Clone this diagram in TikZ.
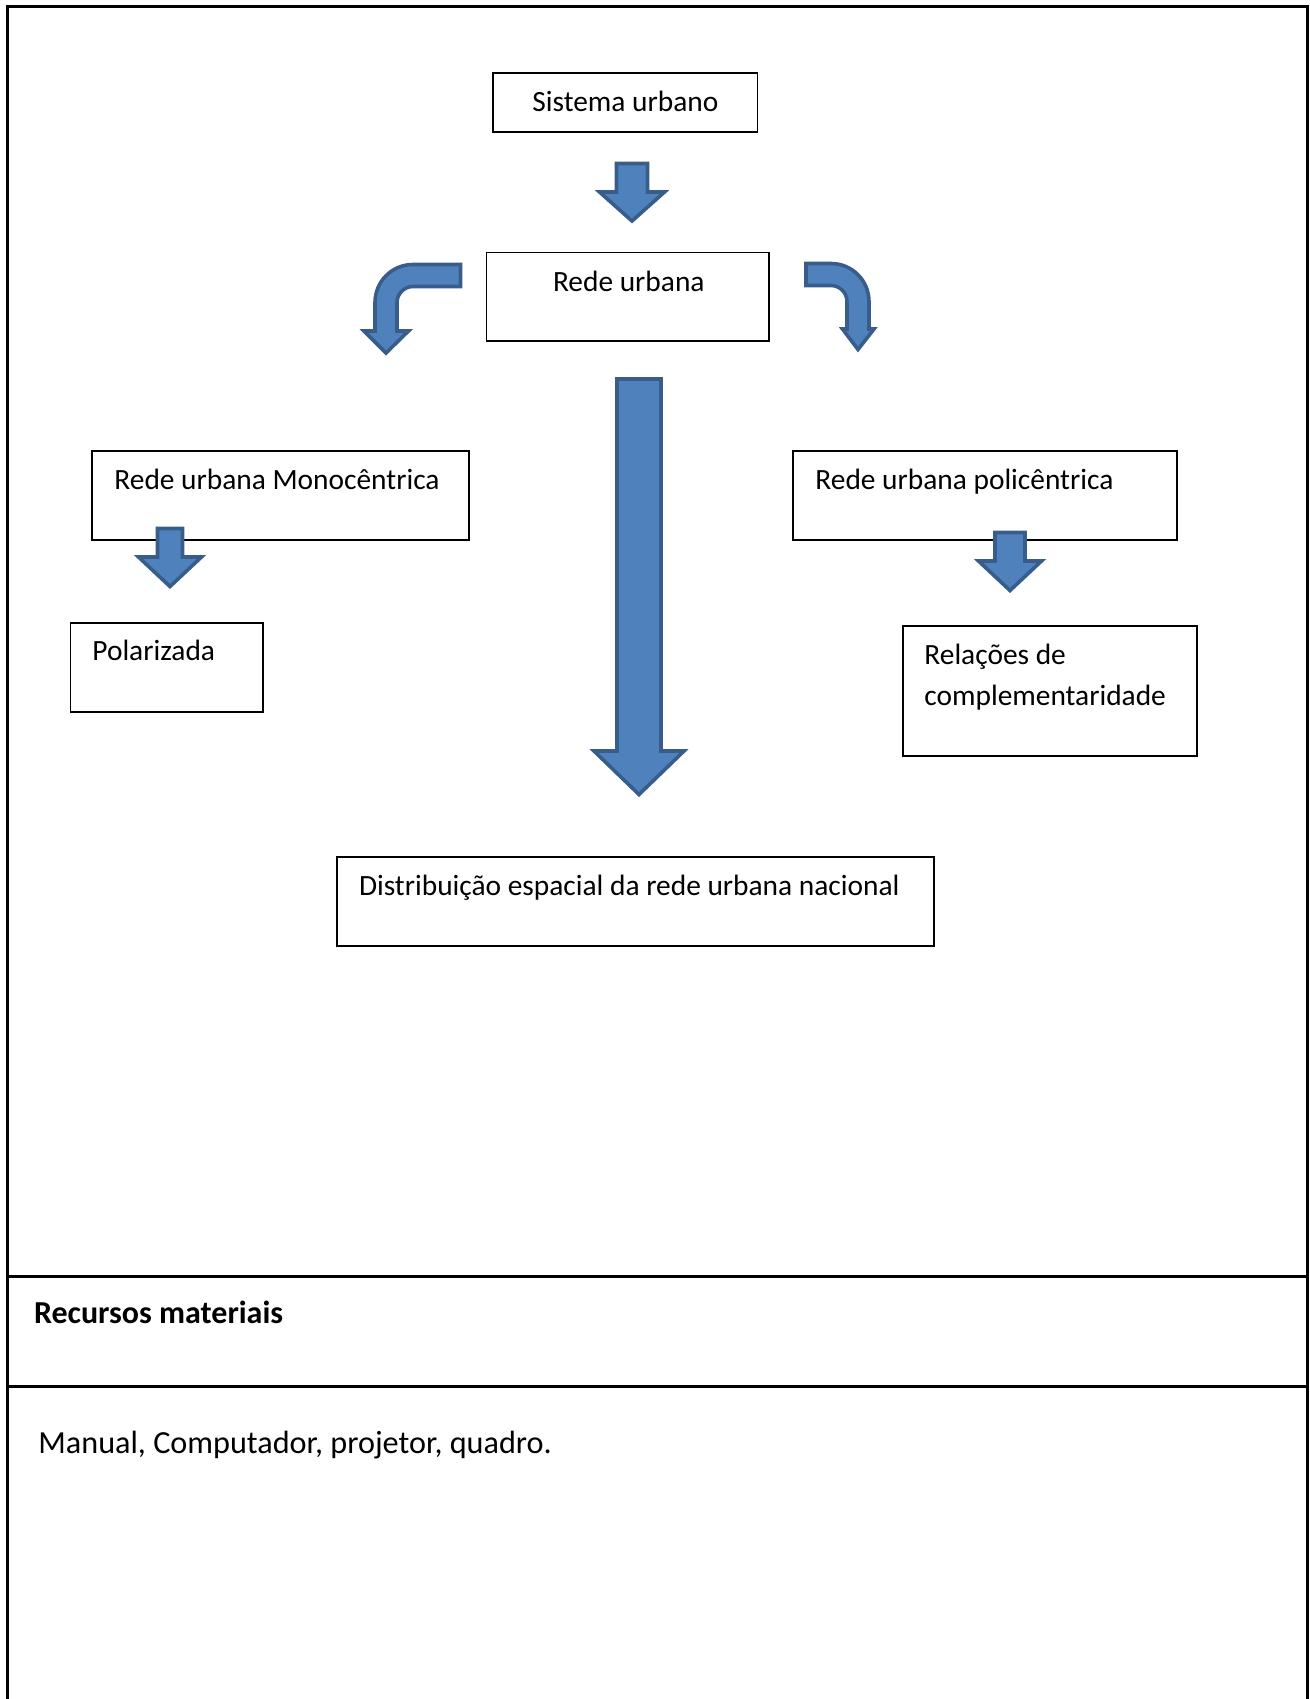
\documentclass[tikz,border=0pt]{standalone}
\usepackage{fontspec}
\setmainfont{Carlito}
\usetikzlibrary{fit}
\definecolor{arrowfill}{HTML}{4F81BD}
\definecolor{arrowline}{HTML}{385D8A}
\begin{document}
\begin{tikzpicture}[x=0.5pt,y=-0.5pt,
  frame/.style={line width=1.5pt},
  box/.style={draw, line width=0.9pt, inner sep=0pt},
  txt/.style={anchor=base west, inner sep=0pt, font=\fontsize{14.7}{17.5}\selectfont},
  bigtxt/.style={anchor=base west, inner sep=0pt, font=\fontsize{16.1}{19}\selectfont},
  blockarrow/.style={fill=arrowfill, draw=arrowline, line width=1.8pt, line join=miter}]
\useasboundingbox (0,0) rectangle (1310,1699);
% outer frame and table rules
\coordinate (tl) at (7,6.5);
\coordinate (tr) at (1307,6.5);
\coordinate (bl) at (7,1699);
\coordinate (br) at (1307,1699);
\draw[frame] (bl) -- (tl) -- (tr) -- (br);
\coordinate (r1l) at (7,1276);
\coordinate (r1r) at (1307,1276);
\coordinate (r2l) at (7,1386);
\coordinate (r2r) at (1307,1386);
\draw[frame] (r1l) -- (r1r);
\draw[frame] (r2l) -- (r2r);
% boxes
\node[box, fit={(493,72.6) (757.4,132.2)}] (sis) {};
\node[box, fit={(486.5,252.5) (769.3,341.3)}] (rede) {};
\node[box, fit={(92,450.7) (469.2,539.6)}] (mono) {};
\node[box, fit={(793,450.7) (1176.7,539.6)}] (poli) {};
\node[box, fit={(70.4,623) (263.3,711.9)}] (pol) {};
\node[box, fit={(902.6,626.3) (1197.3,756.3)}] (rel) {};
\node[box, fit={(337,857) (934,946)}] (dist) {};
% texts
\node[txt] (sist) at (532,111) {Sistema urbano};
\node[txt] (redet) at (552.6,291) {Rede urbana};
\node[txt] (monot) at (114,489) {Rede urbana Monocêntrica};
\node[txt] (polit) at (815,489) {Rede urbana policêntrica};
\node[txt] (polt) at (92,660) {Polarizada};
\node[txt] (relt1) at (924,664.5) {Relações de};
\node[txt] (relt2) at (924,705.7) {complementaridade};
\node[txt] (distt) at (358.6,895) {Distribuição espacial da rede urbana nacional};
\node[bigtxt, font=\fontsize{16}{19}\selectfont\bfseries] (rect) at (33.6,1323) {Recursos materiais};
\node[bigtxt] (mant) at (38,1453) {Manual, Computador, projetor, quadro.};
% block arrows
\draw[blockarrow] (616.5,163.5) -- (647.5,163.5) -- (647.5,192) -- (664.5,192) -- (632,221) -- (599.5,192) -- (616.5,192) -- cycle;
\draw[blockarrow] (617,379) -- (661,379) -- (661,751) -- (684,751) -- (639,794.5) -- (594,751) -- (617,751) -- cycle;
\draw[blockarrow] (157.5,528.5) -- (182.5,528.5) -- (182.5,557) -- (201.5,557) -- (170,586.5) -- (138.5,557) -- (157.5,557) -- cycle;
\draw[blockarrow] (995,532.5) -- (1025,532.5) -- (1025,561) -- (1041.5,561) -- (1010,590.5) -- (978.5,561) -- (995,561) -- cycle;
% bent arrows
\draw[blockarrow] (460.5,264.5) -- (413,264.5) .. controls (392,264.5) and (375,281.5) .. (375,302.5)
  -- (375,331) -- (364,331) -- (386,353) -- (408.5,331) -- (397,331) -- (397,302.5)
  .. controls (397,293.7) and (404.2,286.5) .. (413,286.5) -- (460.5,286.5) -- cycle;
\draw[blockarrow] (806,263.5) -- (831,263.5) .. controls (852,263.5) and (869,280.5) .. (869,301.5)
  -- (869,329) -- (874,329) -- (858,349.5) -- (842.5,329) -- (847,329) -- (847,301.5)
  .. controls (847,292.7) and (839.8,285.5) .. (831,285.5) -- (806,285.5) -- cycle;
\end{tikzpicture}
\end{document}
